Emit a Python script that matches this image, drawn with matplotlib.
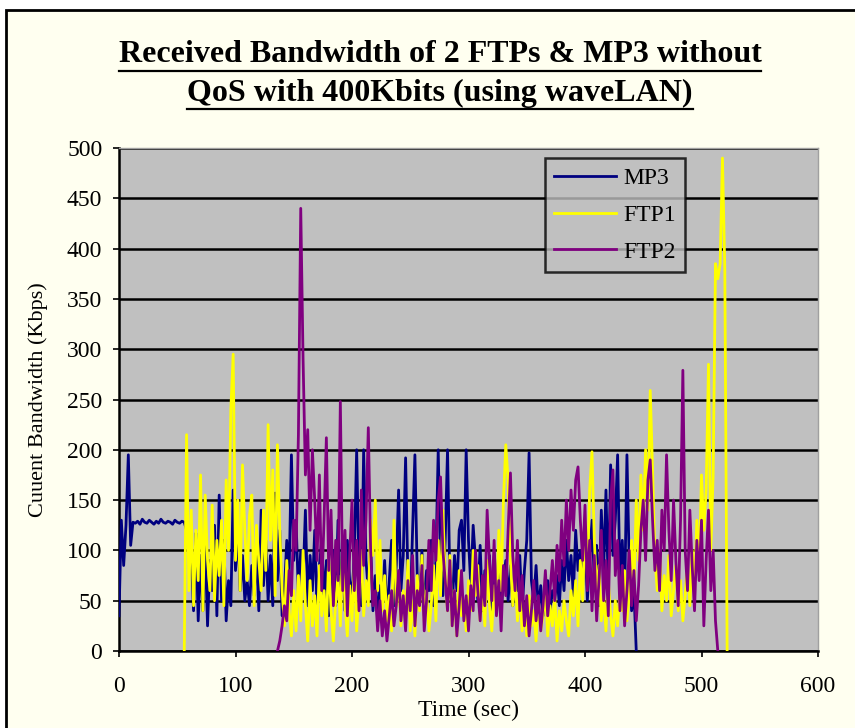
import numpy as np
import matplotlib
matplotlib.use("Agg")
import matplotlib.pyplot as plt
from matplotlib.patches import Rectangle

title_lines = ["Received Bandwidth of 2 FTPs & MP3 without",
               "QoS with 400Kbits (using waveLAN)"]
xlabel = "Time (sec)"
ylabel = "Cuuent Bandwidth (Kbps)"
series_names = ["MP3", "FTP1", "FTP2"]
series_colors = ["#000080", "#FFFF00", "#800080"]
step = 2  # seconds between samples

# MP3 received rate (Kbps), sampled every 2 s from t=0
mp3_start = 0
mp3 = [35, 130, 85, 125, 195, 105,
       128, 127, 129, 126, 131, 128, 127, 130, 128, 126, 129, 127, 131, 128,
       127, 129, 128, 126, 130, 128, 127, 129, 128,
       120, 110, 95, 40, 117, 30, 95, 40, 105, 25, 90, 60, 125, 35, 155, 50,
       110, 30, 70, 45, 160, 80, 120, 60, 95, 50, 70, 45, 85, 55, 100, 40,
       140, 65, 110, 50, 95, 45, 157, 70, 120, 35,
       60, 110, 75, 195, 90, 130, 55, 100, 70, 140, 45, 95, 60, 120, 40, 85,
       110, 50, 90, 35, 75, 100, 45, 130, 60, 85, 40, 110, 70, 55, 95, 200,
       80, 45, 200, 90, 60, 105, 40, 75, 30, 65, 50, 90, 35, 70, 110, 45,
       85, 160, 60, 95, 192, 70, 40, 120, 195, 75, 50, 100, 35, 80, 60, 110,
       45, 90, 200, 85, 55, 110, 200, 70, 40, 95, 60, 120, 130, 80, 200, 110,
       65, 125, 90, 50, 105, 40, 80, 60, 95, 35, 75, 55, 100, 40, 70, 90,
       50, 85, 45, 75, 60, 95, 40, 80, 110, 197, 70, 50, 85, 40, 65, 35,
       55, 70, 40, 60, 50, 75, 45, 90, 60, 110, 70, 95, 55, 120, 80, 100,
       65, 115, 50, 90, 130, 70, 105, 45, 140, 80, 160, 60, 185, 95, 130, 195,
       70, 110, 50, 195, 85, 40, 60, 0]

# FTP1 received rate (Kbps), from t=56
ftp1_start = 56
ftp1 = [0, 215, 60, 140, 45, 120, 70, 175, 40, 155, 90, 60, 145, 50, 110, 75,
        130, 45, 170, 100, 240, 295, 90, 150, 60, 185, 120, 70, 135, 155, 45,
        125, 90, 60, 140, 80, 225, 110, 180, 55, 205, 120, 60,
        25, 90, 40, 15, 60, 20, 75, 30, 100, 45, 10, 70, 25, 55, 15, 85,
        35, 60, 20, 95, 40, 10, 50, 75, 25, 110, 45, 15, 65, 30, 85, 20,
        55, 100, 35, 70, 45, 130, 95, 150, 60, 110, 40, 75, 30, 55, 20, 130,
        45, 70, 25, 60, 35, 90, 20, 50, 15, 75, 40, 95, 30, 60, 20, 45,
        85, 30, 110, 55, 140, 75, 40, 95, 25, 60, 15, 80, 35, 50, 20, 70,
        40, 100, 55, 85, 30, 60, 25, 90, 45, 20, 65, 35, 120, 60, 150, 205,
        170, 90, 45, 75, 30, 60, 20, 45, 15, 55, 25, 40, 10, 50, 20, 35,
        60, 15, 45, 25, 55, 10, 40, 20, 50, 30, 15, 60, 35, 70, 25, 90,
        50, 130, 75, 160, 198, 110, 60, 85, 30, 55, 20, 70, 35, 15, 50, 25,
        60, 40, 80, 30, 55, 110, 60, 150, 90, 175, 120, 200, 140, 259, 180, 95,
        60, 100, 40, 75, 50, 95, 35, 60, 85, 40, 70, 30, 55, 90, 45, 100,
        60, 130, 80, 175, 120, 160, 285, 100, 175, 385, 370, 385, 490, 380, 0]

# FTP2 received rate (Kbps), from t=136
ftp2_start = 136
ftp2 = [0, 10, 25, 45, 30, 80, 55, 130, 100, 215, 440, 290, 175, 220, 120, 200,
        150, 90, 175, 60, 130, 212, 80, 140, 45, 110, 70, 248, 60, 120, 35,
        95, 150, 60, 110, 40, 160, 85, 130, 222, 100, 45, 60, 20, 50, 15, 40,
        10, 35, 60, 25, 45, 80, 30, 55, 20, 70, 40, 95, 25, 60, 45, 85,
        20, 50, 110, 60, 130, 90, 150, 173, 100, 70, 40, 90, 25, 60, 15, 45,
        80, 30, 55, 20, 65, 40, 100, 60, 30, 75, 45, 140, 90, 50, 110, 35,
        70, 20, 85, 55, 120, 177, 95, 60, 110, 40, 75, 25, 55, 15, 40, 70,
        30, 55, 20, 45, 80, 35, 60, 90, 50, 105, 70, 130, 85, 150, 100, 160,
        120, 170, 183, 130, 90, 145, 60, 110, 40, 95, 30, 70, 120, 50, 90, 35,
        150, 180, 75, 110, 40, 85, 25, 60, 100, 45, 80, 30, 65, 120, 150, 90,
        170, 190, 130, 80, 110, 60, 140, 100, 195, 120, 70, 150, 90, 45, 130, 279,
        100, 60, 140, 85, 40, 110, 70, 130, 25, 90, 140, 60, 100, 30, 0]

starts = [mp3_start, ftp1_start, ftp2_start]
values = [mp3, ftp1, ftp2]

plt.rcParams['font.family'] = ['Liberation Serif', 'DejaVu Serif']

fig = plt.figure(figsize=(8.55, 7.28), dpi=100)
fig.patch.set_facecolor("white")

# cream chart area with a black frame, kept behind the axes
W, H = 855, 728
frame = Rectangle((6 / W, -0.01), 1.1, 1.01 - 10 / H, transform=fig.transFigure,
                  facecolor="#FFFFF0", edgecolor="black", linewidth=2.0, zorder=-10)
fig.add_artist(frame)

ax = fig.add_axes([119 / W, 1 - 651 / H, (818 - 119) / W, (651 - 148) / H])
ax.set_facecolor("#C0C0C0")

for start, vals, name, col in zip(starts, values, series_names, series_colors):
    t = start + step * np.arange(len(vals))
    ax.plot(t, vals, color=col, linewidth=2.0, label=name, zorder=3)

ax.set_xlim(0, 600)
ax.set_ylim(0, 500)
ax.set_xticks(np.arange(0, 601, 100))
ax.set_yticks(np.arange(0, 501, 50))
ax.yaxis.grid(True, color="black", linewidth=1.8)
ax.set_axisbelow(True)
ax.tick_params(labelsize=17, length=4, width=1.2, colors="black")
ax.tick_params(axis="x", pad=14)
ax.tick_params(axis="y", pad=8)
for side in ["left", "bottom"]:
    ax.spines[side].set_linewidth(1.8)
for side in ["top", "right"]:
    ax.spines[side].set_color("#A0A0A0")
    ax.spines[side].set_linewidth(1.0)

ax.set_xlabel(xlabel, fontsize=17, labelpad=2)
ax.set_ylabel(ylabel, fontsize=16, labelpad=14)

leg = ax.legend(loc="upper left", bbox_to_anchor=((545 - 119) / 699, (651 - 158) / 503),
                fontsize=17, frameon=True, fancybox=False, facecolor="#C0C0C0",
                edgecolor="black", handlelength=2.6, borderpad=0.4,
                labelspacing=0.65, handletextpad=0.3, borderaxespad=0)
leg.get_frame().set_linewidth(1.8)
leg.set_zorder(5)

# underlined two-line title
fig.canvas.draw()
renderer = fig.canvas.get_renderer()
for line, yc in zip(title_lines, [55, 93]):
    txt = fig.text(440 / W, 1 - yc / H, line, ha="center", va="center",
                   fontsize=23, fontweight="bold")
    bb = txt.get_window_extent(renderer)
    uy = bb.y0 - 1
    fig.add_artist(plt.Line2D([bb.x0 / W, bb.x1 / W], [uy / H, uy / H],
                              transform=fig.transFigure, color="black", linewidth=1.6))

fig.savefig("out.png", dpi=100, facecolor=fig.get_facecolor())
